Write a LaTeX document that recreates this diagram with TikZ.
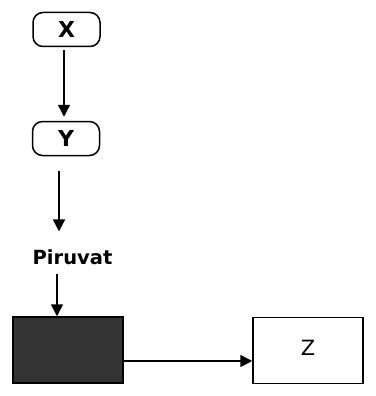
\documentclass[tikz,border=0pt]{standalone}
\usepackage{fontspec}
\setmainfont{DejaVu Sans}
\usetikzlibrary{arrows.meta,calc}
\begin{document}
\begin{tikzpicture}[x=1pt,y=-1pt,
 rbox/.style={draw,line width=1.5pt,rounded corners=10pt,minimum width=67pt,minimum height=34pt,inner sep=0pt,font=\fontsize{22}{22}\selectfont\bfseries},
 sbox/.style={draw,line width=1.5pt,minimum width=110pt,minimum height=66pt,inner sep=0pt},
 lbl/.style={inner sep=0pt,font=\fontsize{19.5}{19.5}\selectfont\bfseries},
 conn/.style={line width=1.6pt,-{Triangle[length=12pt,width=12pt]}}]
\useasboundingbox[fill=white] (0,0) rectangle (375,396);
\node[rbox] (X) at (66.5,29.5) {X};
\node[rbox] (Y) at (66,138.5) {Y};
\node[lbl] (P) at (72.5,257) {Piruvat};
\node[sbox,fill=black!80] (D) at (68,350) {};
\node[sbox,font=\fontsize{21}{21}\selectfont] (Z) at (308,350.5) {\raisebox{6pt}{Z}};
\draw[conn] ($(X.south)+(-2.5,3)$) -- ($(Y.north)+(-2,-4)$);
\draw[conn] ($(Y.south)+(-7,14.5)$) -- ($(P.north)+(-13.5,-17.8)$);
\draw[conn] ($(P.south)+(-15.5,9)$) -- ($(D.north)+(-11,0)$);
\draw[conn] ($(D.east)+(0,11)$) -- ($(Z.west)+(0,10.5)$);
\end{tikzpicture}
\end{document}
